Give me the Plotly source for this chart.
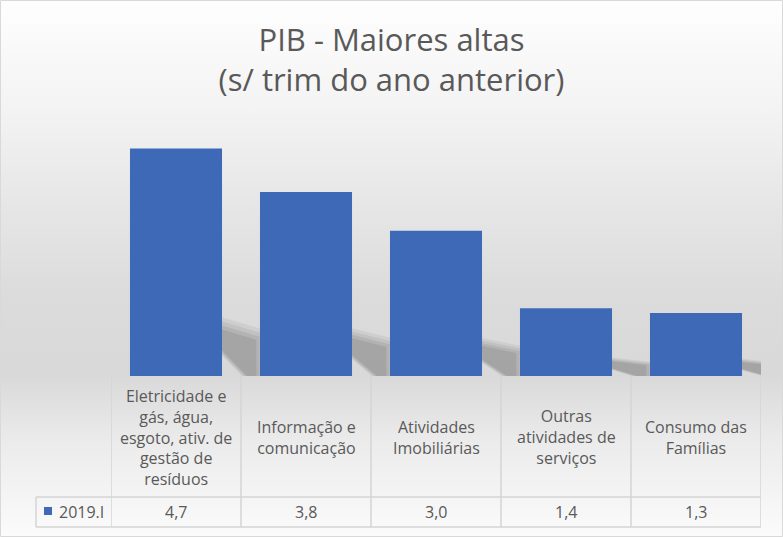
import base64
import plotly.graph_objects as go

# ---- data ----
categories = [
    "Eletricidade e<br>gás, água,<br>esgoto, ativ. de<br>gestão de<br>resíduos",
    "Informação e<br>comunicação",
    "Atividades<br>Imobiliárias",
    "Outras<br>atividades de<br>serviços",
    "Consumo das<br>Famílias",
]
values = [4.7, 3.8, 3.0, 1.4, 1.3]
series_name = "2019.I"
title_lines = ["PIB - Maiores altas", "(s/ trim do ano anterior)"]

# ---- layout constants (pixels) ----
W, H = 783, 537
L, R, T, B = 111, 22, 134, 161
PW = W - L - R
PH = H - T - B
TEXT = "#595959"
GRID = "#d4d4d4"
BAR = "#3d69b7"
FONT = "Open Sans"


def pxx(p):
    return (p - L) / PW


def pxy(p):
    return (H - B - p) / PH


fig = go.Figure()
xidx = list(range(len(categories)))
fig.add_trace(go.Bar(
    x=xidx, y=values, name=series_name,
    marker=dict(color=BAR, line=dict(width=0)),
    showlegend=False, hoverinfo="skip",
))

shapes = []
annotations = []

# background gradient (svg image)
svg = f'''<svg xmlns="http://www.w3.org/2000/svg" width="{W}" height="{H}" viewBox="0 0 {W} {H}" preserveAspectRatio="none">
<defs><linearGradient id="g" x1="0" y1="0" x2="0" y2="1">
<stop offset="0" stop-color="#fefefe"/>
<stop offset="0.19" stop-color="#f4f4f4"/>
<stop offset="0.37" stop-color="#e7e7e7"/>
<stop offset="0.56" stop-color="#dbdbdb"/>
<stop offset="0.70" stop-color="#d9d9d9"/>
<stop offset="0.82" stop-color="#ebebeb"/>
<stop offset="1" stop-color="#fbfbfb"/>
</linearGradient></defs>
<rect width="{W}" height="{H}" fill="url(#g)"/>
</svg>'''
src = "data:image/svg+xml;base64," + base64.b64encode(svg.encode()).decode()

# bar shadows (derived from values), layered for a soft look
hw = (1 - 0.292) / 2
for i, v in zip(xidx, values):
    for k, a in ((1.12, 0.05), (1.04, 0.06), (0.96, 0.07), (0.88, 0.08)):
        xr = i + hw
        pts = [
            (xr, 0.225 * v * k + 0.03),
            (xr + 0.30 * k, 0.18 * v * k),
            (xr + 0.30 * k, 0),
            (xr + 0.17 / k, 0),
            (xr, 0.10 * v / k),
        ]
        path = "M" + " L".join(f"{px},{py}" for px, py in pts) + " Z"
        shapes.append(dict(type="path", path=path, xref="x", yref="y",
                           fillcolor=f"rgba(0,0,0,{a})", line=dict(width=0),
                           layer="below"))

# data table lines
for yy in (497, 527):
    shapes.append(dict(type="line", xref="paper", yref="paper",
                       x0=pxx(36), x1=pxx(761), y0=pxy(yy), y1=pxy(yy),
                       line=dict(color=GRID, width=1.5)))
for i in range(len(categories) + 1):
    shapes.append(dict(type="line", xref="x", yref="paper",
                       x0=i - 0.5, x1=i - 0.5, y0=pxy(376), y1=pxy(527),
                       line=dict(color=GRID, width=1.5)))
shapes.append(dict(type="line", xref="paper", yref="paper",
                   x0=pxx(36), x1=pxx(36), y0=pxy(497), y1=pxy(527),
                   line=dict(color=GRID, width=1.5)))
# legend key
shapes.append(dict(type="rect", xref="paper", yref="paper",
                   x0=pxx(44), x1=pxx(52), y0=pxy(507), y1=pxy(515),
                   fillcolor=BAR, line=dict(width=0)))
# chart border
shapes.append(dict(type="rect", xref="paper", yref="paper",
                   x0=pxx(0.5), x1=pxx(W - 0.5), y0=pxy(0.5), y1=pxy(H - 0.5),
                   line=dict(color="#d9d9d9", width=1), layer="below"))

# category labels
for i, c in zip(xidx, categories):
    annotations.append(dict(text=c, x=i, xref="x", y=pxy(437), yref="paper",
                            showarrow=False, xanchor="center", yanchor="middle",
                            font=dict(family=FONT, size=16, color=TEXT)))
# values
for i, v in zip(xidx, values):
    annotations.append(dict(text=f"{v:.1f}".replace(".", ","), x=i, xref="x",
                            y=pxy(512), yref="paper", showarrow=False,
                            xanchor="center", yanchor="middle",
                            font=dict(family=FONT, size=16, color=TEXT)))
annotations.append(dict(text=series_name, x=pxx(57), xref="paper", y=pxy(512),
                        yref="paper", showarrow=False, xanchor="left",
                        yanchor="middle", font=dict(family=FONT, size=16, color=TEXT)))

fig.update_layout(
    width=W, height=H,
    margin=dict(l=L, r=R, t=T, b=B, pad=0),
    paper_bgcolor="white", plot_bgcolor="rgba(0,0,0,0)",
    title=dict(text="<br>".join(title_lines), x=0.5, xref="container",
               xanchor="center", y=1 - 51 / H, yref="container", yanchor="middle",
               font=dict(family=FONT, size=31, color=TEXT)),
    bargap=0.292,
    xaxis=dict(type="linear", range=[-0.5, 4.5], showticklabels=False,
               showgrid=False, zeroline=False, showline=False, ticks=""),
    yaxis=dict(range=[0, 5], visible=False, showgrid=False, zeroline=False),
    images=[dict(source=src, xref="paper", yref="paper", x=pxx(0), y=pxy(0),
                 sizex=W / PW, sizey=H / PH, sizing="stretch", xanchor="left",
                 yanchor="top", layer="below")],
    shapes=shapes, annotations=annotations,
)

fig.write_html("out.html",
               config={"displayModeBar": False},
               post_script="document.body.style.margin='0';"
                           "document.body.style.overflow='hidden';")
